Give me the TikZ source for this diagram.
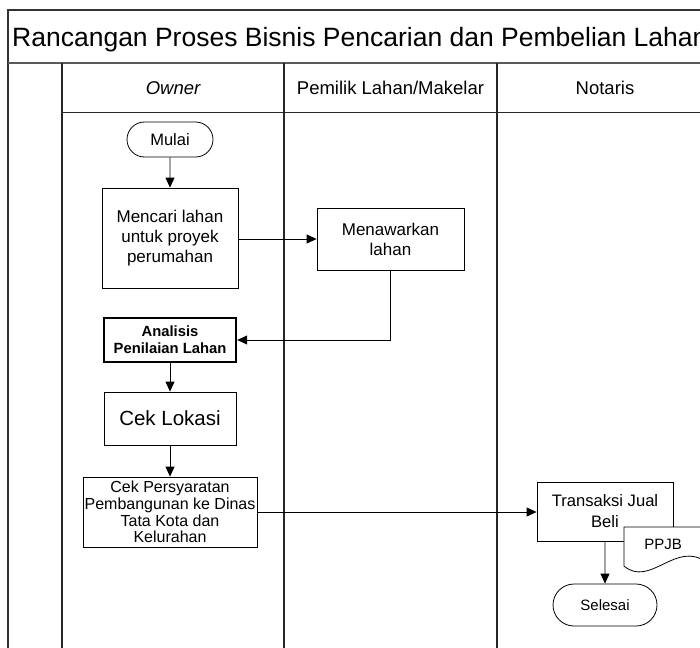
\documentclass[tikz,border=0pt]{standalone}
\usepackage{fontspec}
\setmainfont{Liberation Sans}
\usetikzlibrary{arrows.meta,shapes.misc}
\begin{document}
\begin{tikzpicture}[x=1pt,y=-1pt,
  frame/.style={draw=black!80, line width=1.3pt},
  lane/.style={draw=black!85, line width=1.4pt},
  proc/.style={draw, line width=0.8pt, fill=white, align=center, inner sep=0pt},
  term/.style={draw, line width=0.8pt, fill=white, rounded rectangle, inner sep=0pt},
  flow/.style={line width=0.8pt, -{Triangle[length=10pt,width=9pt]}},
  hdr/.style={font=\fontsize{18.5}{22}\selectfont, inner sep=0pt, anchor=base}
]
\useasboundingbox (0,0) rectangle (700,647);
\clip (0,0) rectangle (700,647);

% swimlane frame
\draw[frame] (8,720) -- (8,10) -- (730,10);
\draw[line width=2pt, draw=black!65] (8,63) -- (730,63);
\draw[line width=1pt, draw=black!85] (62,113) -- (730,113);
\draw[lane] (62,63) -- (62,720);
\draw[lane] (284,63) -- (284,720);
\draw[lane] (497,63) -- (497,720);
\draw[lane] (713,10) -- (713,720);

% title and lane headers
\node[font=\fontsize{26.5}{30}\selectfont, anchor=base west, inner sep=0pt] (title) at (12,47)
  {Rancangan Proses Bisnis Pencarian dan Pembelian Lahan};
\node[hdr] (hOwner) at (173,95) {\itshape Owner};
\node[hdr] (hPemilik) at (390.5,95) {Pemilik Lahan/Makelar};
\node[hdr] (hNotaris) at (605,95) {Notaris};

% process steps
\node[term, minimum width=86pt, minimum height=35pt, font=\fontsize{16.5}{18}\selectfont]
  (mulai) at (170,139.5) {Mulai};
\node[proc, minimum width=136pt, minimum height=100pt, font=\fontsize{17}{20}\selectfont]
  (cari) at (170,238) {Mencari lahan\\untuk proyek\\perumahan};
\node[proc, minimum width=147pt, minimum height=62pt, font=\fontsize{17}{20}\selectfont]
  (tawar) at (390.5,239) {Menawarkan\\lahan};
\node[proc, line width=2.4pt, minimum width=132pt, minimum height=44pt,
  font=\bfseries\fontsize{14.8}{17}\selectfont]
  (analisis) at (170,340) {Analisis\\Penilaian Lahan};
\node[proc, minimum width=132pt, minimum height=53pt, font=\fontsize{20.5}{22}\selectfont]
  (lokasi) at (170,418.5) {Cek Lokasi};
\node[proc, minimum width=174pt, minimum height=70pt, font=\fontsize{16}{16.7}\selectfont]
  (syarat) at (170,512) {Cek Persyaratan\\Pembangunan ke Dinas\\Tata Kota dan\\Kelurahan};
\node[proc, minimum width=136pt, minimum height=59pt, font=\fontsize{16.6}{21}\selectfont]
  (jualbeli) at (605,511.5) {Transaksi Jual\\Beli};

% PPJB document
\draw[line width=0.8pt, fill=white] (624,566) -- (624,527) -- (706,527) -- (706,562)
  .. controls (676,540) and (650,588) .. (624,566) -- cycle;
\node[font=\fontsize{15}{17}\selectfont, inner sep=0pt] (ppjb) at (663,544) {PPJB};

\node[term, minimum width=104pt, minimum height=42pt, font=\fontsize{15}{17}\selectfont]
  (selesai) at (605,605) {Selesai};

% flow connectors
\draw[flow] (mulai) -- (cari);
\draw[flow] (cari.east |- tawar.west) -- (tawar.west);
\draw[flow] (tawar.south) |- (analisis.east);
\draw[flow] (analisis) -- (lokasi);
\draw[flow] (lokasi) -- (syarat);
\draw[flow] (syarat.east) -- (syarat.east -| jualbeli.west);
\draw[flow] (jualbeli) -- (selesai);
\end{tikzpicture}
\end{document}
